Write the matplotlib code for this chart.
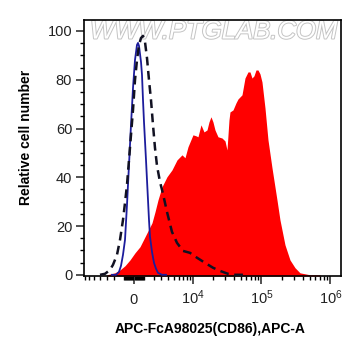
import matplotlib
matplotlib.use("Agg")
import matplotlib.pyplot as plt
import matplotlib.patheffects as pe
import numpy as np

plt.rcParams['font.family'] = ['Liberation Sans', 'DejaVu Sans']
plt.rcParams['mathtext.fontset'] = 'custom'
plt.rcParams['mathtext.rm'] = 'Liberation Sans'

# CD86 stained sample (red filled)
sample_x = [-2936, -1934, -1384, -871, -382, 95, 576, 1278, 1821, 2170, 2540, 3077,
            3820, 4668, 5655, 6795, 7568, 8414, 10013, 11116, 11900, 13190, 14606,
            16173, 17303, 18504, 19790, 21181, 23423, 26798, 29630, 31690, 33860,
            35020, 38720, 42790, 45760, 52310, 57800, 63890, 68330, 73020, 78050,
            83450, 89180, 95350, 101900, 112700, 124550, 142260, 168050, 185730,
            219360, 259200, 306300, 361800, 505100, 704700]
sample_y = [0, 0.8, 2.0, 3.7, 6.1, 9.0, 11.5, 17.2, 21.3, 25.8, 30.7, 36.1,
            40.2, 43.0, 47.1, 49.2, 48.0, 52.5, 57.4, 57.0, 56.6, 61.5, 58.6,
            59.4, 62.7, 64.8, 62.7, 59.4, 56.6, 56.1, 54.9, 51.2, 63.5,
            66.8, 67.6, 70.5, 72.1, 73.8, 80.7, 83.2, 83.2, 80.7, 81.6,
            84.0, 84.0, 82.4, 79.1, 68.4, 55.3, 43.9, 30.7, 22.5,
            12.3, 6.1, 2.9, 0.8, 0, 0]

# blank / unstained (blue solid)
blank_x = [-2291, -1821, -1490, -1278, -1073, -871, -674, -479, -286, -95, 95, 286,
           382, 479, 674, 772, 871, 971, 1175, 1278, 1384, 1490, 1599, 1821,
           2053, 2291, 2540, 3077, 3669]
blank_y = [0, 0, 1.2, 3.7, 8.2, 14.3, 28.7, 45.1, 61.5, 76.6, 88.1, 94.3,
           95.1, 93.9, 87.3, 82.0, 71.7, 62.7, 47.1, 38.9, 30.7, 22.5, 15.6, 9.4,
           4.9, 2.5, 0.8, 0, 0]

# isotype control (black dashed)
iso_x = [-3980, -3218, -2540, -2170, -1709, -1384, -1073, -871, -674, -479, -286, -95,
         95, 286, 479, 674, 871, 1073, 1278, 1490, 1709, 1934, 2170, 2415, 2801,
         3218, 3820, 4668, 5655, 7042, 9030, 11502, 15112, 19790, 25060, 32750,
         41390, 57800]
iso_y = [0, 0.4, 2.0, 4.1, 8.2, 14.3, 22.5, 29.5, 36.9, 47.1, 57.4, 67.6,
         79.9, 88.1, 94.3, 97.1, 98.0, 95.5, 88.9, 79.9, 71.7, 61.5, 52.0, 44.7, 38.1,
         33.2, 25.8, 17.6, 13.1, 9.8, 9.0, 7.0, 4.9, 2.9, 1.6, 0.4,
         0, 0]

xtick_vals = [0, 1e4, 1e5, 1e6]
xtick_labels = ['0', r'$\mathregular{10^4}$', r'$\mathregular{10^5}$', r'$\mathregular{10^6}$']
ytick_vals = [0, 20, 40, 60, 80, 100]

fig = plt.figure(figsize=(3.61, 3.56), dpi=100)
ax = fig.add_axes([0.2327, 0.2247, 0.7119, 0.7191])
ax.set_xscale('asinh', linear_width=2860)
ax.set_xlim(-7300, 1.42e6)
ax.set_ylim(-0.5, 104.5)

ax.fill_between(sample_x, sample_y, -0.5, color='#ff0000', linewidth=0, zorder=2)
ax.plot(blank_x, blank_y, color='#1c1c9c', lw=1.3, zorder=3)
ax.plot(iso_x, iso_y, color='#111122', lw=1.8, dashes=(3.5, 2.2), zorder=4)

ax.text(0.505, 0.955, 'WWW.PTGLAB.COM', transform=ax.transAxes, ha='center', va='center',
        fontsize=18.5, style='italic', color='white', zorder=1,
        path_effects=[pe.withStroke(linewidth=1.4, foreground='#c4c4c4')])

# ticks
minor = list(range(-7000, 0, 1000)) + list(range(-900, 1000, 100)) + list(range(1000, 10000, 1000))
minor += [k * 1e4 for k in range(2, 10)] + [k * 1e5 for k in range(2, 10)]
minor = [m for m in minor if m != 0]
ax.set_xticks(xtick_vals)
ax.set_xticklabels(xtick_labels)
ax.set_xticks(minor, minor=True)
ax.set_yticks(ytick_vals)
ax.set_yticks(np.arange(0, 105, 5), minor=True)

ax.tick_params(axis='both', which='major', length=6, width=1.1, labelsize=10.5, colors='#222222')
ax.tick_params(axis='both', which='minor', length=3, width=1.0)
ax.tick_params(axis='x', which='major', pad=14)
ax.tick_params(axis='y', which='major', pad=2.5)
for lab in ax.get_xticklabels():
    lab.set_verticalalignment('baseline')
for s in ax.spines.values():
    s.set_linewidth(1.2)

ax.set_ylabel('Relative cell number', fontsize=10, fontweight='bold')
ax.yaxis.set_label_coords(-0.198, 0.541)
ax.set_xlabel('APC-FcA98025(CD86),APC-A', fontsize=10, fontweight='bold')
ax.xaxis.set_label_coords(0.49, -0.18)

fig.savefig('out.png', dpi=100)
